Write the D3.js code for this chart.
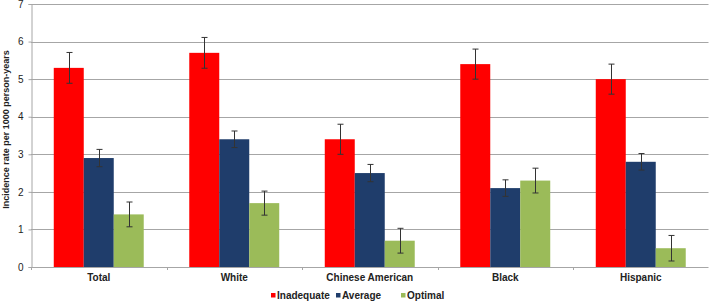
<!DOCTYPE html>
<html>
<head>
<meta charset="utf-8">
<script src="https://cdn.jsdelivr.net/npm/d3@7"></script>
<style>
  body { margin: 0; background: #fff; }
  svg { display: block; font-family: "Liberation Sans", Arial, sans-serif; }
</style>
</head>
<body>
<svg id="chart"></svg>
<script>
"use strict";

// data
const groups = ["Total", "White", "Chinese American", "Black", "Hispanic"];
const seriesNames = ["Inadequate", "Average", "Optimal"];
const seriesColors = ["#ff0000", "#1f3d6b", "#9bbb59"];
const inadequate = [5.3, 5.7, 3.4, 5.4, 5.0];
const average    = [2.9, 3.4, 2.5, 2.1, 2.8];
const optimal    = [1.4, 1.7, 0.7, 2.3, 0.5];
const inadequateErr = [0.41, 0.41, 0.40, 0.40, 0.40];
const averageErr    = [0.23, 0.22, 0.23, 0.22, 0.22];
const optimalErr    = [0.33, 0.32, 0.33, 0.33, 0.34];
const yTicks = [0, 1, 2, 3, 4, 5, 6, 7];

const values = [inadequate, average, optimal];
const errs = [inadequateErr, averageErr, optimalErr];

const W = 709, H = 302;
const margin = { top: 4, right: 0.5, bottom: 35, left: 31 };
const width = W - margin.left - margin.right;
const height = H - margin.top - margin.bottom;

const svg = d3.select("#chart").attr("width", W).attr("height", H);
const g = svg.append("g").attr("transform", `translate(${margin.left},${margin.top})`);

const x0 = d3.scaleBand().domain(groups).range([0, width]).paddingInner(0.336).paddingOuter(0.168);
const x1 = d3.scaleBand().domain(seriesNames).range([0, x0.bandwidth()]);
const y = d3.scaleLinear().domain([0, 7]).range([height, 0]);

// gridlines
g.selectAll("line.grid")
  .data(yTicks.filter(d => d > 0))
  .enter().append("line")
  .attr("x1", 0).attr("x2", width)
  .attr("y1", d => Math.round(y(d)) + 0.5).attr("y2", d => Math.round(y(d)) + 0.5)
  .attr("stroke", "#a6a6a6").attr("stroke-width", 1);

// y axis
const yAxis = g.append("g")
  .attr("transform", "translate(0.5,0)")
  .call(d3.axisLeft(y).tickValues(yTicks).tickFormat(d3.format("d")).tickSize(3).tickPadding(5));
yAxis.select(".domain").attr("stroke", "#a6a6a6");
yAxis.selectAll(".tick line").attr("stroke", "#a6a6a6");
yAxis.selectAll("text").attr("fill", "#222").style("font-size", "10px")
  .style("font-family", "'Liberation Sans', Arial, sans-serif");

// bars
groups.forEach((grp, gi) => {
  seriesNames.forEach((s, si) => {
    const v = values[si][gi], e = errs[si][gi];
    const bx = x0(grp) + x1(s);
    g.append("rect")
      .attr("x", bx).attr("width", x1.bandwidth())
      .attr("y", y(v)).attr("height", y(0) - y(v))
      .attr("fill", seriesColors[si]);
    const cx = Math.round(bx + x1.bandwidth() / 2) + 0.5;
    g.append("line")
      .attr("x1", cx).attr("x2", cx).attr("y1", y(v + e)).attr("y2", y(v - e))
      .attr("stroke", "#333").attr("stroke-width", 1);
    [v + e, v - e].forEach(t => {
      g.append("line")
        .attr("x1", cx - 3).attr("x2", cx + 3).attr("y1", y(t)).attr("y2", y(t))
        .attr("stroke", "#333").attr("stroke-width", 1);
    });
  });
});

// x axis with boundary ticks
const xAxisG = g.append("g").attr("transform", `translate(0,${height})`);
xAxisG.append("line").attr("x1", 0).attr("x2", width).attr("y1", 0.5).attr("y2", 0.5)
  .attr("stroke", "#a6a6a6");
const step = x0.step();
d3.range(groups.length + 1).forEach(i => {
  const bx = Math.round(i * step) + 0.5;
  xAxisG.append("line").attr("x1", bx).attr("x2", bx).attr("y1", 0).attr("y2", 3)
    .attr("stroke", "#a6a6a6");
});
xAxisG.selectAll("text.xl")
  .data(groups)
  .enter().append("text")
  .attr("x", d => x0(d) + x0.bandwidth() / 2)
  .attr("y", 14)
  .attr("text-anchor", "middle")
  .style("font-size", "10px").style("font-weight", "bold")
  .attr("fill", "#222")
  .text(d => d);

// y title
svg.append("text")
  .attr("transform", `translate(9,${margin.top + height / 2 - 6}) rotate(-90)`)
  .attr("text-anchor", "middle")
  .style("font-size", "9px").style("font-weight", "bold")
  .attr("fill", "#222")
  .text("Incidence rate per 1000 person-years");

// legend
const legendX = [271, 336, 401];
seriesNames.forEach((s, i) => {
  svg.append("rect").attr("x", legendX[i]).attr("y", 293).attr("width", 4.5).attr("height", 4.5)
    .attr("fill", seriesColors[i]);
  svg.append("text").attr("x", legendX[i] + 6).attr("y", 299)
    .style("font-size", "10px").style("font-weight", "bold").attr("fill", "#222")
    .text(s);
});
</script>
</body>
</html>
